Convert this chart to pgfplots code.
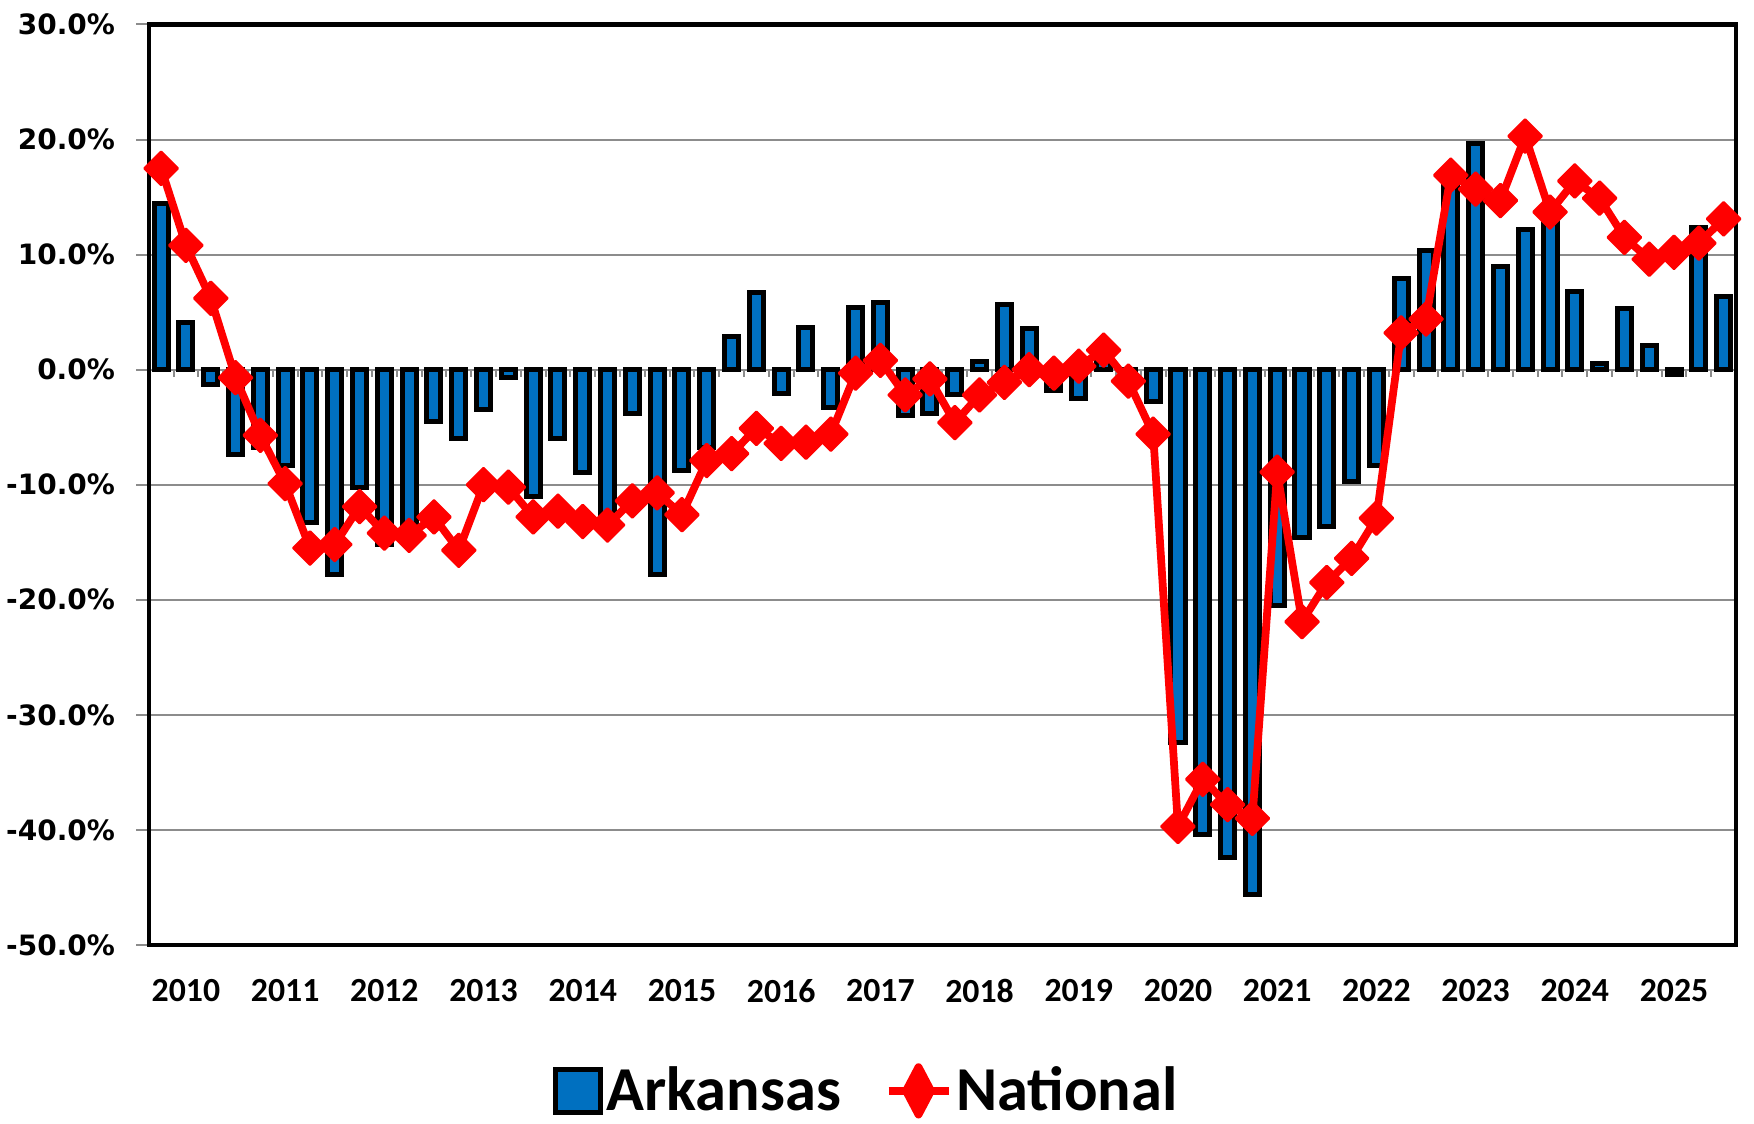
\documentclass[border=0pt]{standalone}
\usepackage{pgfplots}
\pgfplotsset{compat=1.18}
\usepackage{fontspec}
\setmainfont{Carlito}
\newfontfamily\tickfont{DejaVu Sans}
\definecolor{arblue}{RGB}{0,112,192}
\definecolor{natred}{RGB}{255,0,0}

% quarterly change, 2010 Q1 .. 2025 Q4 (q = 1..64)
\pgfplotstableread{
q  ark    nat
1  14.4   17.5
2  4.1    10.8
3  -1.3   6.2
4  -7.4   -0.7
5  -6.8   -5.7
6  -8.3   -9.9
7  -13.3  -15.5
8  -17.8  -15.2
9  -10.2  -11.9
10 -15.2  -14.2
11 -14.5  -14.4
12 -4.5   -12.8
13 -6.0   -15.7
14 -3.5   -10.0
15 -0.7   -10.2
16 -11.0  -12.8
17 -6.0   -12.3
18 -8.9   -13.2
19 -13.0  -13.5
20 -3.8   -11.4
21 -17.8  -10.7
22 -8.8   -12.6
23 -6.8   -7.9
24 2.9    -7.3
25 6.7    -5.1
26 -2.1   -6.4
27 3.7    -6.3
28 -3.3   -5.6
29 5.4    -0.3
30 5.8    0.8
31 -4.0   -2.2
32 -3.8   -0.8
33 -2.2   -4.6
34 0.7    -2.2
35 5.7    -1.1
36 3.6    0.0
37 -1.8   -0.3
38 -2.5   0.3
39 0.8    1.7
40 -0.6   -1.0
41 -2.8   -5.6
42 -32.4  -39.7
43 -40.4  -35.6
44 -42.4  -37.8
45 -45.6  -39.0
46 -20.5  -8.9
47 -14.6  -21.9
48 -13.6  -18.5
49 -9.7   -16.4
50 -8.3   -12.9
51 7.9    3.2
52 10.4   4.4
53 16.5   16.9
54 19.7   15.7
55 9.0    14.7
56 12.2   20.3
57 13.3   13.7
58 6.8    16.4
59 0.5    14.9
60 5.3    11.5
61 2.1    9.6
62 -0.4   10.2
63 12.4   11.0
64 6.4    13.1
}\datatable

\begin{document}
\begin{tikzpicture}
\begin{axis}[
    name=ax,
    scale only axis,
    width=634.9pt, height=368.2pt,
    xmin=0.5, xmax=64.5,
    ymin=-50, ymax=30,
    clip=false,
    axis line style={line width=1.8pt, black},
    ymajorgrids,
    grid style={black!45, line width=0.8pt},
    ytick={-50,-40,...,30},
    ytick pos=left,
    tick align=outside,
    major tick length=5pt,
    ytick style={black!45, line width=0.8pt},
    /pgf/number format/assume math mode=true,
    yticklabel={\pgfmathprintnumber[fixed,fixed zerofill,precision=1]{\tick}\%},
    yticklabel style={font=\tickfont\fontsize{11.2}{13}\selectfont\bfseries, xshift=-5pt},
    xtick={2,6,...,62},
    xticklabels={2010,2011,2012,2013,2014,2015,2016,2017,2018,2019,2020,2021,2022,2023,2024,2025},
    xtick style={draw=none},
    xticklabel style={font=\fontsize{13.5}{16}\selectfont\bfseries, yshift=-5.2pt},
    legend style={at={(0.4525,-0.1585)}, anchor=center, draw=none,
        font=\fontsize{25}{30}\selectfont\bfseries,
        legend columns=-1,
        /tikz/every even column/.append style={column sep=16pt},
        nodes={inner sep=1.5pt}},
]
% small ticks on the zero line between quarters
\pgfplotsinvokeforeach{1.5,2.5,...,63.5}{
    \draw[black!45, line width=0.8pt] (axis cs:#1,0) -- ++(0pt,-2.8pt);
}
\addplot[ybar, bar width=0.565, fill=arblue, draw=black, line width=2pt,
    legend image code/.code={
        \draw[fill=arblue, draw=black, line width=2pt] (1pt,-8.5pt) rectangle (19pt,8.5pt);
    }]
    table[x=q, y=ark] {\datatable};
\addlegendentry{Arkansas}
\addplot[natred, line width=3.1pt, line join=round,
    mark=square*, mark size=4.7pt,
    mark options={rotate=45, fill=natred, draw=natred, line width=1pt, line join=round},
    legend image code/.code={
        \draw[natred, line width=3pt] (0pt,0pt) -- (24pt,0pt);
        \fill[natred, line join=round] (12pt,-9.5pt) -- (17pt,0pt) -- (12pt,9.5pt) -- (7pt,0pt) -- cycle;
    }]
    table[x=q, y=nat] {\datatable};
\addlegendentry{National}
\end{axis}
\pgfresetboundingbox
\path[use as bounding box] ([xshift=-59.5pt,yshift=-71.6pt]ax.south west) rectangle ([xshift=7.2pt,yshift=9.8pt]ax.north east);
\end{tikzpicture}
\end{document}
